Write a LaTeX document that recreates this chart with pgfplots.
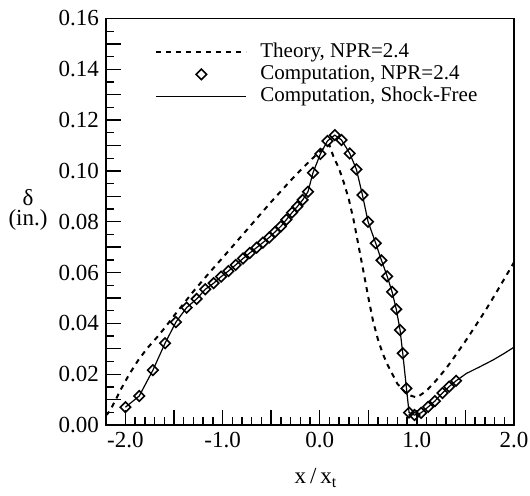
\documentclass[border=0pt]{standalone}
\usepackage{fontspec}
\setmainfont{Liberation Serif}
\usepackage{pgfplots}
\pgfplotsset{compat=1.18}
\usepackage{pgfplotstable}

\pgfplotstableread{
x y
-2.20 0.0038
-2.16 0.0055
-2.10 0.0100
-2.04 0.0145
-1.96 0.0200
-1.87 0.0254
-1.78 0.0300
-1.68 0.0343
-1.60 0.0380
-1.51 0.0425
-1.40 0.0478
-1.30 0.0526
-1.20 0.0571
-1.10 0.0615
-1.00 0.0658
-0.90 0.0702
-0.80 0.0746
-0.70 0.0790
-0.60 0.0834
-0.50 0.0878
-0.40 0.0920
-0.30 0.0962
-0.20 0.1002
-0.10 0.1040
0.00 0.1076
0.06 0.1096
0.10 0.1102
0.14 0.1058
0.20 0.1008
0.25 0.0952
0.30 0.0888
0.35 0.0805
0.40 0.0705
0.45 0.0605
0.50 0.0503
0.55 0.0408
0.60 0.0336
0.65 0.0280
0.70 0.0236
0.80 0.0162
0.90 0.0120
1.00 0.0108
1.10 0.0135
1.20 0.0176
1.30 0.0222
1.40 0.0275
1.50 0.0330
1.60 0.0388
1.70 0.0447
1.80 0.0510
1.90 0.0575
2.00 0.0640
}\theory

\pgfplotstableread{
x y
-2.000 0.0070
-1.858 0.0114
-1.717 0.0216
-1.592 0.0322
-1.480 0.0405
-1.370 0.0462
-1.267 0.0496
-1.178 0.0534
-1.092 0.0558
-1.015 0.0584
-0.940 0.0606
-0.865 0.0630
-0.790 0.0655
-0.720 0.0677
-0.650 0.0698
-0.585 0.0718
-0.520 0.0738
-0.460 0.0760
-0.400 0.0782
-0.343 0.0808
-0.285 0.0836
-0.230 0.0860
-0.175 0.0886
-0.121 0.0918
-0.069 0.0993
0.007 0.1067
0.080 0.1118
0.155 0.1141
0.224 0.1122
0.309 0.1069
0.378 0.1006
0.440 0.0905
0.498 0.0800
0.577 0.0715
0.636 0.0648
0.695 0.0585
0.745 0.0524
0.788 0.0456
0.827 0.0374
0.855 0.0282
0.893 0.0144
0.920 0.0049
0.976 0.0039
1.044 0.0048
1.116 0.0071
1.185 0.0094
1.264 0.0126
1.332 0.0151
1.404 0.0174
}\comp

\pgfplotstableread{
x y
-2.000 0.0070
-1.858 0.0114
-1.717 0.0216
-1.592 0.0322
-1.480 0.0405
-1.370 0.0462
-1.267 0.0496
-1.178 0.0534
-1.092 0.0558
-1.015 0.0584
-0.940 0.0606
-0.865 0.0630
-0.790 0.0655
-0.720 0.0677
-0.650 0.0698
-0.585 0.0718
-0.520 0.0738
-0.460 0.0760
-0.400 0.0782
-0.343 0.0808
-0.285 0.0836
-0.230 0.0860
-0.175 0.0886
-0.121 0.0918
-0.069 0.0993
0.007 0.1067
0.080 0.1118
0.155 0.1141
0.224 0.1122
0.309 0.1069
0.378 0.1006
0.440 0.0905
0.498 0.0800
0.577 0.0715
0.636 0.0648
0.695 0.0585
0.745 0.0524
0.788 0.0456
0.827 0.0374
0.855 0.0282
0.893 0.0144
0.920 0.0049
0.976 0.0039
1.044 0.0048
1.116 0.0071
1.185 0.0094
1.264 0.0126
1.332 0.0151
1.404 0.0174
1.511 0.0203
1.648 0.0229
1.785 0.0256
1.900 0.0282
2.000 0.0306
}\shockfree

\begin{document}
\begin{tikzpicture}
\begin{axis}[
  name=ax,
  scale only axis,
  width=204pt, height=203.25pt,
  xmin=-2.2, xmax=2.0, ymin=0, ymax=0.16,
  axis line style={line width=0.65pt},
  tick style={line width=0.65pt, black},
  tick align=inside,
  xtick pos=bottom, ytick pos=left,
  major tick length=7.5pt, minor tick length=4pt,
  xtick={-2,-1.5,-1,-0.5,0,0.5,1,1.5,2},
  xticklabels={-2.0,{},-1.0,{},0.0,{},1.0,{},2.0},
  minor x tick num=4,
  ytick={0,0.01,0.02,0.03,0.04,0.05,0.06,0.07,0.08,0.09,0.10,0.11,0.12,0.13,0.14,0.15,0.16},
  yticklabels={0.00,{},0.02,{},0.04,{},0.06,{},0.08,{},0.10,{},0.12,{},0.14,{},0.16},
  minor y tick num=1,
  tick label style={font=\fontsize{11.5}{13}\selectfont},
  xlabel={x\,/\,x\textsubscript{t}},
  every axis x label/.style={at={(axis description cs:0.5,0)}, anchor=center, xshift=3pt, yshift=-26.5pt, font=\fontsize{11.5}{13}\selectfont},
  ylabel={δ\\[-2pt](in.)},
  every axis y label/.style={at={(axis description cs:0,0.53)}, anchor=center, xshift=-39pt, align=center, font=\fontsize{11.5}{12}\selectfont},
  legend cell align=left,
  legend style={at={(axis description cs:0,1)}, anchor=north west, xshift=24.5pt, yshift=-11.75pt,
    draw=none, fill=none, inner sep=0pt, row sep=1pt,
    font=\fontsize{10.5}{12}\selectfont,
    nodes={inner sep=0pt, text height=7.5pt, text depth=2.5pt},
    /tikz/every odd column/.append style={column sep=6.5pt}},
]
\addlegendimage{black,
  legend image code/.code={\draw[black, line width=1pt, dash pattern=on 2.5pt off 2.5pt] (0pt,0pt) -- (45pt,0pt);}}
\addlegendentry{Theory, NPR=2.4}
\addlegendimage{black,
  legend image code/.code={\path[draw=none] (0pt,0pt) -- (45pt,0pt);
    \draw[black, solid, line width=0.8pt, fill=white] (22.5pt,0pt) +(-2.6pt,0pt) -- +(0pt,2.6pt) -- +(2.6pt,0pt) -- +(0pt,-2.6pt) -- cycle;}}
\addlegendentry{Computation, NPR=2.4}
\addlegendimage{black,
  legend image code/.code={\draw[black, line width=0.6pt] (0pt,0pt) -- (45pt,0pt);}}
\addlegendentry{Computation, Shock-Free}

\addplot[forget plot, black, line width=0.6pt] table {\shockfree};
\addplot[forget plot, black, line width=1pt, dash pattern=on 2.5pt off 2.5pt] table {\theory};
\addplot[forget plot, only marks, mark=square, mark size=1.85pt,
  mark options={rotate=45, solid, black, fill=white, line width=0.8pt}] table {\comp};
\end{axis}
\pgfresetboundingbox
\path ([shift={(-53pt,-35.5pt)}]ax.south west) rectangle ([shift={(8pt,9.25pt)}]ax.north east);
\end{tikzpicture}
\end{document}
